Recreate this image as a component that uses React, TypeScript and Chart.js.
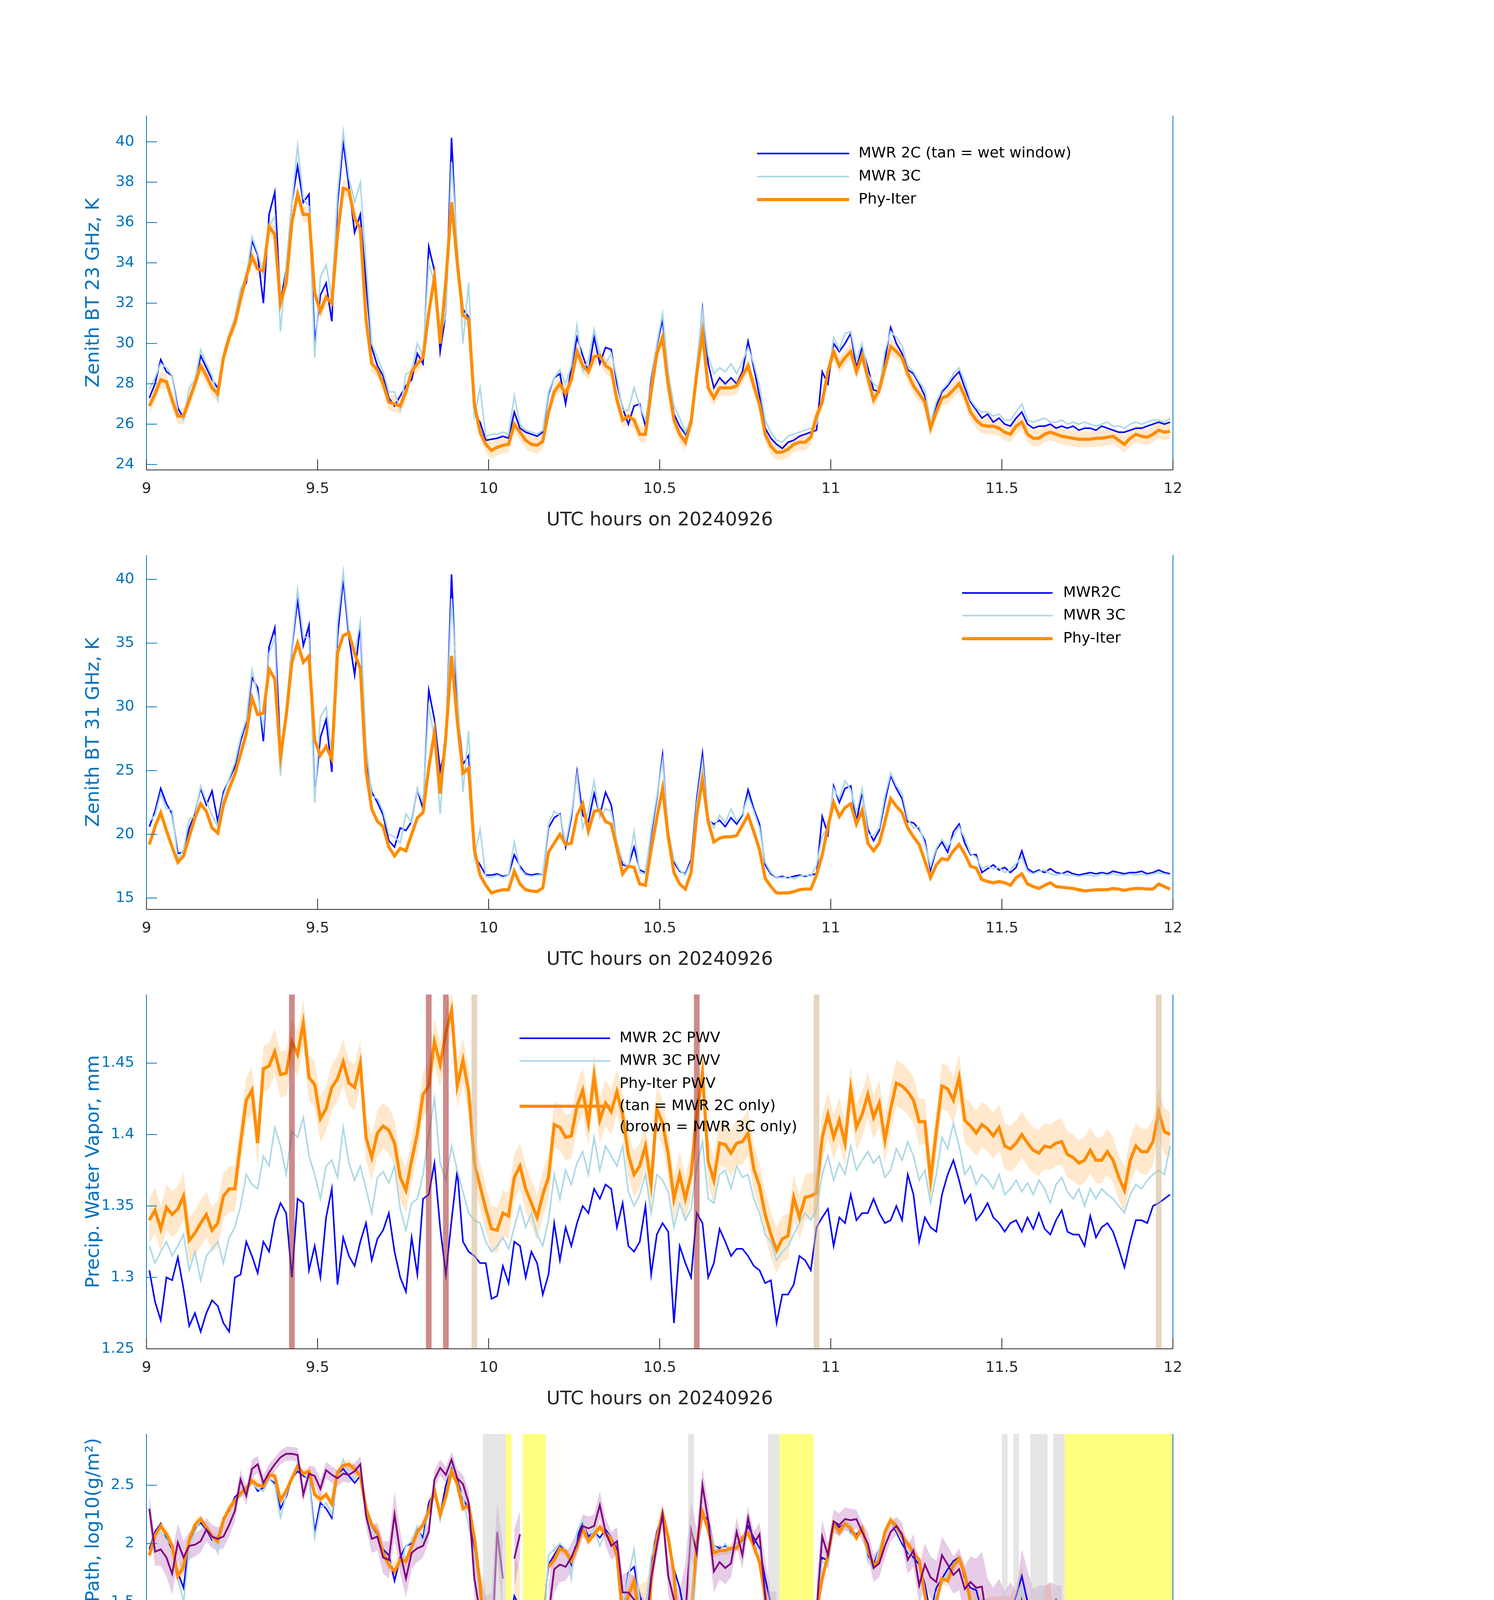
import { useEffect, useRef } from "react";
import { Chart, registerables } from "chart.js";

Chart.register(...registerables);
Chart.defaults.font.family = "'DejaVu Sans', sans-serif";

// page geometry (px)
const PAGE_W = 3825;
const PAGE_H = 6000;
const CANVAS_H = 1125;
const FIRST_CANVAS_TOP = 236;
const AXES_LEFT = 375;
const AXES_RIGHT = 3003;
const AXES_TOP = 60;
const X_AXIS_H = 158;

const AXIS_BLUE = "#0072BD";
const DARK = "#262626";
const BLUE = "#0000FF";
const LIGHT = "#ADD8E6";
const ORANGE = "#FF8C00";
const PURPLE = "#800080";

// one-minute retrievals, stamped mid-minute, 09:00-12:00 UTC
const minuteHours = Array.from({ length: 180 }, (_, i) => 9 + (i + 0.5) / 60);
const hourTicks = [9, 9.5, 10, 10.5, 11, 11.5, 12];

// ---- panel 1: zenith BT 23 GHz (K)
const bt23Mwr2c = [
  27.3, 28.0, 29.2, 28.6, 28.4, 26.8, 26.3, 27.2, 28.0, 29.4,
  28.8, 28.2, 27.8, 29.3, 30.3, 31.2, 32.6, 33.0, 35.1, 34.4,
  32.0, 36.4, 37.5, 32.0, 33.7, 37.0, 38.8, 37.0, 37.4, 30.0,
  32.4, 33.0, 31.1, 36.9, 40.0, 37.8, 35.5, 36.4, 33.0, 29.8,
  28.9, 28.4, 27.3, 26.9, 27.4, 27.9, 28.2, 29.5, 29.0, 34.8,
  33.6, 29.6, 31.5, 40.2, 34.3, 31.7, 31.3, 26.5, 26.1, 25.2,
  25.25, 25.3, 25.4, 25.3, 26.6, 25.8, 25.6, 25.5, 25.4, 25.6,
  27.5, 28.3, 28.5, 27.0, 28.8, 30.3, 29.4, 28.6, 30.3, 29.0,
  29.8, 29.7, 28.0, 26.8, 26.0, 26.9, 27.0, 25.9, 28.2, 29.9,
  31.2, 28.2, 26.5, 25.9, 25.5, 26.0, 28.8, 31.7, 29.0, 27.8,
  28.3, 28.0, 28.3, 28.0, 28.6, 30.1, 28.8, 27.4, 25.8, 25.3,
  25.0, 24.8, 25.1, 25.2, 25.4, 25.5, 25.6, 25.7, 28.6, 28.0,
  30.0, 29.6, 30.0, 30.5, 28.8, 29.8, 28.8, 27.7, 27.6, 29.2,
  30.8, 30.0, 29.5, 28.7, 28.5, 28.0, 27.4, 25.9, 26.9, 27.6,
  27.9, 28.3, 28.6, 27.8, 27.1, 26.7, 26.3, 26.5, 26.1, 26.3,
  26.0, 25.9, 26.3, 26.6, 26.0, 25.8, 25.9, 25.9, 26.0, 25.8,
  25.9, 25.8, 25.9, 25.7, 25.8, 25.8, 25.7, 25.9, 25.8, 25.7,
  25.6, 25.6, 25.7, 25.8, 25.8, 25.9, 26.0, 26.1, 26.0, 26.1,
];
const bt23Mwr3c = [
  27.7, 28.3, 29.0, 28.8, 28.4, 26.6, 26.2, 27.8, 28.2, 29.7,
  29.0, 28.4, 27.2, 29.4, 30.4, 31.3, 32.7, 33.3, 35.3, 34.5,
  33.4, 35.8, 36.3, 30.6, 33.8, 37.0, 39.8, 37.2, 36.8, 29.3,
  33.3, 33.9, 32.3, 37.4, 40.5, 38.2, 37.0, 38.0, 34.0, 30.0,
  29.3, 28.6, 27.6, 27.6, 26.7, 28.5, 28.6, 30.0, 29.4, 34.0,
  33.0, 30.4, 31.4, 39.0, 34.9, 30.0, 33.0, 26.4, 27.8, 25.4,
  25.5, 25.5, 25.6, 25.5, 27.4, 26.0, 25.7, 25.6, 25.5, 25.7,
  27.6, 28.3, 28.7, 28.0, 28.9, 30.9, 28.6, 29.2, 30.7, 29.5,
  29.0, 29.5, 28.3, 26.7, 26.7, 27.8, 26.9, 26.2, 28.0, 30.0,
  31.5, 28.6, 26.9, 26.3, 25.6, 26.3, 29.0, 31.6, 29.4, 28.5,
  28.8, 28.6, 29.0, 28.5, 29.1, 29.8, 29.0, 27.9, 26.2, 25.6,
  25.2, 25.1, 25.4, 25.5, 25.6, 25.7, 25.8, 26.0, 27.3, 28.4,
  30.3, 29.7, 30.5, 30.6, 29.2, 30.0, 28.5, 28.0, 27.8, 29.6,
  30.6, 30.3, 29.9, 28.9, 28.6, 28.1, 27.7, 26.1, 27.1, 27.7,
  28.0, 28.5, 28.8, 28.1, 27.2, 26.8, 26.6, 26.6, 26.4, 26.5,
  26.2, 26.2, 26.6, 27.0, 26.2, 26.1, 26.2, 26.3, 26.1, 26.1,
  26.2, 26.0, 26.1, 26.0, 26.1, 26.0, 25.9, 26.0, 26.1, 25.9,
  25.9, 25.8, 26.0, 26.1, 26.0, 26.1, 26.2, 26.2, 26.1, 26.3,
];
const bt23PhyIter = [
  26.9, 27.5, 28.2, 28.1, 27.2, 26.4, 26.4, 27.2, 28.0, 28.9,
  28.4, 27.8, 27.5, 29.3, 30.3, 31.0, 32.2, 33.3, 34.3, 33.7,
  33.6, 35.8, 35.4, 32.0, 33.0, 36.0, 37.4, 36.4, 36.4, 32.5,
  31.6, 32.3, 32.0, 35.4, 37.7, 37.6, 36.2, 35.7, 31.2, 29.0,
  28.7, 28.0, 27.1, 27.0, 26.9, 27.6, 28.6, 29.0, 29.3, 31.5,
  33.3, 30.0, 33.1, 37.0, 34.0, 31.4, 31.2, 27.0, 25.6, 25.0,
  24.7, 24.85, 24.95, 25.0, 26.0, 25.6, 25.2, 25.0, 24.95, 25.15,
  26.6, 27.6, 28.0, 27.5, 28.2, 29.6, 28.9, 28.6, 29.35, 29.4,
  28.9, 28.7, 27.2, 26.2, 26.4, 26.2, 25.5, 25.5, 27.6, 29.5,
  30.3, 27.9, 26.2, 25.5, 25.1, 26.1, 28.5, 30.5, 27.8, 27.3,
  27.8, 27.8, 27.8, 27.9, 28.4, 28.9, 27.9, 27.0, 25.5, 24.9,
  24.6, 24.62, 24.75, 25.0, 25.1, 25.1, 25.35, 26.4, 27.1, 28.6,
  29.6, 28.9, 29.3, 29.6, 28.6, 29.4, 28.3, 27.2, 27.7, 28.8,
  29.85, 29.6, 29.3, 28.5, 27.9, 27.5, 27.1, 25.8, 26.6, 27.3,
  27.4, 27.7, 28.0, 27.4, 26.6, 26.2, 25.95, 25.9, 25.9, 25.8,
  25.6, 25.5, 25.9, 26.1, 25.5, 25.3, 25.3, 25.5, 25.6, 25.5,
  25.4, 25.35, 25.3, 25.25, 25.25, 25.25, 25.3, 25.3, 25.35, 25.4,
  25.2, 25.0, 25.3, 25.5, 25.4, 25.35, 25.5, 25.7, 25.6, 25.65,
];
const bt23PhyIterUnc = 0.4;
const bt23Ticks = [24, 26, 28, 30, 32, 34, 36, 38, 40];

// ---- panel 2: zenith BT 31 GHz (K)
const bt31Mwr2c = [
  20.6, 21.8, 23.6, 22.4, 21.6, 18.5, 18.6, 20.5, 21.6, 23.6,
  22.3, 23.4, 21.0, 23.3, 24.3, 25.3, 27.3, 28.8, 32.3, 31.5,
  27.3, 34.7, 36.2, 26.6, 29.4, 34.6, 38.4, 34.8, 36.4, 23.0,
  27.6, 29.0, 24.9, 35.5, 40.0, 35.5, 32.5, 36.4, 26.0, 23.3,
  22.5, 21.5, 19.5, 19.0, 20.5, 20.3, 21.0, 23.5, 22.0, 31.3,
  29.0, 25.0, 27.0, 40.4, 29.8, 25.5, 26.2, 18.3, 17.6, 16.8,
  16.8, 16.9, 16.7, 16.8, 18.4, 17.5, 16.9, 16.8, 16.9, 16.8,
  20.5, 21.3, 21.6, 19.0, 21.3, 24.9, 21.5, 21.0, 23.2, 21.5,
  23.3, 22.3, 19.2, 17.6, 17.5, 19.0, 17.2, 17.0, 20.0, 22.8,
  26.2, 20.0, 17.8, 17.1, 16.9, 18.0, 22.8, 26.3, 21.1, 20.8,
  21.1, 20.6, 21.3, 20.8, 21.5, 23.5, 22.0, 20.8, 17.6, 16.9,
  16.6, 16.7, 16.6, 16.7, 16.8, 16.7, 16.8, 16.9, 21.4, 20.0,
  23.8, 22.5, 23.6, 23.8, 21.0, 23.3, 20.4, 19.5, 20.3, 22.6,
  24.6, 23.6, 22.8, 21.0, 20.9, 20.4, 19.5, 17.2, 18.8, 19.4,
  18.6, 20.2, 20.8, 19.3, 18.4, 18.4, 17.0, 17.3, 17.6, 17.2,
  17.4, 17.0, 17.4, 18.7, 17.3, 17.0, 17.2, 17.0, 17.3, 17.0,
  16.9, 17.1, 16.9, 16.8, 16.9, 17.0, 16.9, 17.0, 16.9, 17.1,
  17.0, 16.9, 17.0, 17.0, 17.1, 16.9, 17.0, 17.2, 17.0, 16.9,
];
const bt31Mwr3c = [
  21.0, 21.5, 23.2, 22.0, 21.9, 18.0, 18.8, 21.2, 21.4, 23.8,
  22.6, 21.5, 20.6, 23.0, 24.4, 25.6, 27.6, 29.0, 32.9, 31.0,
  28.3, 34.2, 35.4, 24.6, 29.9, 34.8, 39.2, 35.5, 35.4, 22.5,
  29.2, 30.0, 26.3, 36.5, 40.6, 36.0, 34.2, 36.7, 27.0, 23.0,
  22.8, 21.8, 20.0, 19.8, 19.3, 21.6, 20.9, 23.5, 22.5, 30.0,
  27.5, 21.6, 27.5, 38.5, 31.4, 23.3, 28.1, 18.2, 20.4, 16.7,
  16.6, 16.8, 16.6, 16.8, 19.4, 17.3, 16.8, 16.7, 16.8, 16.8,
  20.8, 21.8, 21.5, 19.3, 21.6, 24.6, 20.5, 21.8, 24.2, 21.3,
  22.0, 21.8, 19.4, 17.9, 17.4, 20.2, 17.0, 16.9, 20.3, 23.0,
  25.8, 20.3, 18.0, 17.2, 16.8, 17.8, 22.4, 25.7, 21.3, 20.5,
  21.5, 20.9, 22.0, 21.0, 21.6, 23.0, 21.8, 20.5, 17.8, 17.0,
  16.6, 16.6, 16.7, 16.5, 16.7, 16.8, 16.7, 17.6, 19.8, 20.6,
  23.6, 22.8, 24.2, 23.5, 21.7, 23.6, 20.0, 19.9, 20.5, 23.0,
  24.8, 23.8, 23.2, 21.2, 20.5, 20.6, 19.2, 17.5, 18.9, 19.6,
  19.0, 19.8, 20.6, 19.7, 18.5, 18.2, 17.3, 17.5, 17.3, 17.4,
  17.0, 17.2, 17.7, 18.2, 17.1, 16.9, 17.1, 17.2, 16.9, 16.8,
  16.9, 16.8, 16.8, 16.7, 16.8, 16.8, 16.7, 16.9, 16.8, 16.9,
  16.8, 16.8, 16.9, 16.8, 16.9, 16.8, 16.9, 17.0, 16.9, 16.8,
];
const bt31PhyIter = [
  19.2, 20.6, 21.7, 20.3, 19.0, 17.8, 18.3, 19.8, 21.3, 22.4,
  21.8, 20.5, 20.1, 22.3, 23.6, 24.7, 26.3, 27.9, 30.7, 29.4,
  29.5, 32.95, 32.2, 26.1, 29.3, 33.5, 35.0, 33.5, 34.0, 27.4,
  26.2, 26.9, 25.9, 34.2, 35.6, 35.8, 34.2, 33.0, 25.0, 22.0,
  21.0, 20.6, 19.0, 18.3, 18.9, 18.7, 20.0, 21.3, 21.7, 25.2,
  28.0, 23.2, 27.7, 34.0, 28.9, 24.8, 25.2, 18.8, 16.8, 16.0,
  15.4, 15.55, 15.65, 15.65, 17.1, 16.1, 15.65, 15.55, 15.5, 15.8,
  18.6, 19.3, 20.0, 19.2, 19.3, 21.5, 22.4, 20.25, 21.8, 21.9,
  21.0, 20.8, 18.9, 16.9, 17.5, 17.4, 16.1, 16.0, 18.8, 21.3,
  23.6, 19.8, 17.0, 16.1, 15.7, 17.0, 21.5, 24.3, 21.0, 19.4,
  19.7, 19.8, 19.8, 19.9, 20.7, 21.5, 20.2, 18.8, 16.55, 15.9,
  15.4, 15.4, 15.4, 15.5, 15.65, 15.7, 15.7, 16.8, 18.4, 20.6,
  22.5, 21.4, 22.1, 22.4, 20.8, 21.9, 19.3, 18.7, 19.3, 21.0,
  22.8, 22.2, 21.7, 20.5, 19.8, 19.2, 17.9, 16.6, 17.6, 18.1,
  18.0, 18.7, 19.2, 18.45, 17.5, 17.35, 16.45, 16.3, 16.2, 16.3,
  16.2, 16.0, 16.6, 16.9, 16.1, 15.9, 15.75, 16.0, 16.2, 15.9,
  15.85, 15.8, 15.75, 15.65, 15.55, 15.6, 15.65, 15.65, 15.65, 15.75,
  15.7, 15.6, 15.7, 15.75, 15.75, 15.7, 15.7, 16.1, 15.9, 15.7,
];
const bt31PhyIterUnc = 0.12;
const bt31Ticks = [15, 20, 25, 30, 35, 40];

// ---- panel 3: precipitable water vapour (mm)
const pwvMwr2c = [
  1.305, 1.283, 1.270, 1.300, 1.298, 1.314, 1.292, 1.266, 1.275, 1.262,
  1.275, 1.284, 1.280, 1.268, 1.262, 1.300, 1.302, 1.325, 1.315, 1.303,
  1.325, 1.318, 1.340, 1.352, 1.345, 1.300, 1.355, 1.352, 1.305, 1.322,
  1.300, 1.342, 1.362, 1.295, 1.328, 1.315, 1.308, 1.325, 1.338, 1.312,
  1.327, 1.333, 1.345, 1.318, 1.300, 1.290, 1.328, 1.302, 1.355, 1.358,
  1.380, 1.335, 1.302, 1.340, 1.375, 1.325, 1.318, 1.315, 1.310, 1.310,
  1.285, 1.287, 1.308, 1.296, 1.325, 1.322, 1.300, 1.318, 1.310, 1.288,
  1.302, 1.338, 1.312, 1.335, 1.322, 1.338, 1.350, 1.345, 1.362, 1.355,
  1.365, 1.362, 1.335, 1.352, 1.322, 1.318, 1.325, 1.350, 1.302, 1.330,
  1.338, 1.332, 1.268, 1.322, 1.310, 1.300, 1.345, 1.338, 1.300, 1.310,
  1.334, 1.325, 1.315, 1.320, 1.320, 1.315, 1.308, 1.305, 1.296, 1.298,
  1.268, 1.288, 1.288, 1.295, 1.315, 1.312, 1.305, 1.335, 1.342, 1.348,
  1.322, 1.342, 1.338, 1.358, 1.340, 1.345, 1.345, 1.355, 1.345, 1.338,
  1.340, 1.350, 1.340, 1.372, 1.358, 1.325, 1.342, 1.335, 1.332, 1.358,
  1.372, 1.382, 1.368, 1.352, 1.358, 1.340, 1.345, 1.352, 1.342, 1.338,
  1.332, 1.338, 1.340, 1.332, 1.342, 1.334, 1.345, 1.334, 1.330, 1.340,
  1.347, 1.332, 1.330, 1.330, 1.322, 1.343, 1.328, 1.335, 1.338, 1.332,
  1.320, 1.307, 1.325, 1.340, 1.340, 1.338, 1.350, 1.352, 1.355, 1.358,
];
const pwvMwr3c = [
  1.322, 1.310, 1.318, 1.325, 1.315, 1.322, 1.330, 1.305, 1.318, 1.298,
  1.315, 1.320, 1.325, 1.310, 1.328, 1.335, 1.350, 1.372, 1.365, 1.362,
  1.385, 1.378, 1.405, 1.392, 1.372, 1.402, 1.398, 1.412, 1.385, 1.372,
  1.355, 1.378, 1.382, 1.370, 1.405, 1.380, 1.368, 1.378, 1.362, 1.345,
  1.370, 1.374, 1.366, 1.378, 1.348, 1.333, 1.352, 1.355, 1.372, 1.400,
  1.425, 1.380, 1.368, 1.392, 1.375, 1.360, 1.345, 1.340, 1.338, 1.325,
  1.318, 1.322, 1.328, 1.320, 1.335, 1.350, 1.335, 1.345, 1.330, 1.322,
  1.340, 1.372, 1.355, 1.375, 1.365, 1.380, 1.388, 1.372, 1.398, 1.375,
  1.392, 1.385, 1.378, 1.392, 1.360, 1.350, 1.358, 1.372, 1.345, 1.372,
  1.368, 1.360, 1.335, 1.352, 1.340, 1.348, 1.378, 1.395, 1.355, 1.352,
  1.372, 1.375, 1.362, 1.378, 1.370, 1.372, 1.355, 1.345, 1.330, 1.325,
  1.312, 1.318, 1.322, 1.330, 1.338, 1.345, 1.340, 1.348, 1.372, 1.385,
  1.368, 1.380, 1.372, 1.392, 1.375, 1.382, 1.388, 1.380, 1.385, 1.370,
  1.375, 1.390, 1.382, 1.395, 1.385, 1.368, 1.375, 1.352, 1.372, 1.398,
  1.390, 1.408, 1.392, 1.372, 1.378, 1.365, 1.372, 1.368, 1.362, 1.372,
  1.358, 1.362, 1.368, 1.360, 1.366, 1.358, 1.368, 1.362, 1.352, 1.365,
  1.370, 1.360, 1.355, 1.362, 1.350, 1.362, 1.355, 1.362, 1.358, 1.355,
  1.350, 1.345, 1.358, 1.365, 1.362, 1.368, 1.372, 1.375, 1.372, 1.392,
];
const pwvPhyIter = [
  1.340, 1.347, 1.334, 1.349, 1.344, 1.348, 1.357, 1.326, 1.331, 1.338,
  1.344, 1.333, 1.338, 1.357, 1.362, 1.362, 1.394, 1.424, 1.431, 1.394,
  1.446, 1.448, 1.458, 1.442, 1.443, 1.465, 1.456, 1.478, 1.440, 1.435,
  1.411, 1.418, 1.433, 1.439, 1.451, 1.436, 1.433, 1.450, 1.398, 1.384,
  1.401, 1.406, 1.403, 1.394, 1.370, 1.361, 1.382, 1.401, 1.428, 1.434,
  1.465, 1.449, 1.471, 1.487, 1.434, 1.452, 1.430, 1.380, 1.364, 1.348,
  1.334, 1.333, 1.345, 1.343, 1.370, 1.378, 1.362, 1.352, 1.342, 1.358,
  1.370, 1.407, 1.405, 1.398, 1.399, 1.420, 1.431, 1.408, 1.441, 1.410,
  1.422, 1.416, 1.430, 1.414, 1.386, 1.372, 1.378, 1.392, 1.365, 1.418,
  1.408, 1.386, 1.355, 1.372, 1.355, 1.372, 1.414, 1.443, 1.381, 1.368,
  1.394, 1.393, 1.387, 1.394, 1.395, 1.401, 1.376, 1.364, 1.344, 1.330,
  1.319, 1.327, 1.329, 1.356, 1.342, 1.356, 1.357, 1.359, 1.398, 1.414,
  1.398, 1.410, 1.394, 1.432, 1.405, 1.414, 1.428, 1.412, 1.422, 1.396,
  1.418, 1.436, 1.434, 1.430, 1.424, 1.409, 1.409, 1.368, 1.402, 1.434,
  1.432, 1.424, 1.440, 1.410, 1.406, 1.401, 1.407, 1.404, 1.399, 1.405,
  1.392, 1.390, 1.394, 1.400, 1.394, 1.389, 1.387, 1.392, 1.391, 1.394,
  1.395, 1.386, 1.384, 1.380, 1.382, 1.389, 1.382, 1.382, 1.388, 1.382,
  1.370, 1.361, 1.382, 1.392, 1.388, 1.388, 1.395, 1.416, 1.402, 1.400,
];
const pwvPhyIterUnc = 0.016;
const pwvTicks = [1.25, 1.3, 1.35, 1.4, 1.45];
// single-minute windows where only one radiometer was used
const pwvTanHours = [9.9583, 10.9583, 11.9583];
const pwvBrownHours = [9.425, 9.825, 9.875, 10.6083];

// ---- panel 4: log10 liquid water path
const lwpMwr2c = [
  1.95, 2.10, 2.17, 2.05, 1.95, 1.75, 1.62, 2.02, 2.12, 2.18,
  2.12, 2.03, 2.05, 2.22, 2.28, 2.40, 2.44, 2.48, 2.54, 2.45,
  2.48, 2.55, 2.52, 2.30, 2.40, 2.56, 2.62, 2.58, 2.56, 2.10,
  2.35, 2.30, 2.22, 2.60, 2.64, 2.58, 2.52, 2.58, 2.30, 2.15,
  2.08, 1.95, 1.90, 1.68, 1.88, 1.98, 2.00, 2.12, 2.05, 2.35,
  2.45, 2.25, 2.50, 2.65, 2.55, 2.38, 2.30, 1.95, 1.60, 1.38,
  1.35, 1.36, 1.34, 1.25, 1.55, 1.45, 1.30, 1.32, 1.26, 1.31,
  1.82, 1.90, 1.98, 1.95, 1.82, 2.05, 2.18, 2.06, 2.10, 2.05,
  2.12, 2.05, 1.95, 1.42, 1.75, 1.80, 1.55, 1.42, 1.85, 2.10,
  2.25, 2.05, 1.78, 1.62, 1.35, 1.38, 1.95, 2.25, 2.20, 1.98,
  1.96, 1.98, 1.95, 2.00, 2.02, 2.15, 2.05, 1.96, 1.70, 1.48,
  1.30, 1.36, 1.30, 1.34, 1.28, 1.34, 1.36, 1.45, 1.88, 1.85,
  2.18, 2.14, 2.17, 2.10, 2.08, 2.12, 1.90, 1.82, 1.95, 2.10,
  2.18, 2.10, 2.00, 1.92, 1.88, 1.82, 1.65, 1.40, 1.62, 1.70,
  1.78, 1.85, 1.88, 1.70, 1.62, 1.60, 1.42, 1.30, 1.48, 1.30,
  1.48, 1.40, 1.55, 1.72, 1.50, 1.35, 1.38, 1.42, 1.45, 1.52,
  1.40, 1.33, 1.36, 1.31, 1.28, 1.34, 1.36, 1.32, 1.36, 1.35,
  1.32, 1.35, 1.30, 1.34, 1.38, 1.37, 1.30, 1.38, 1.25, 1.24,
];
const lwpMwr3c = [
  1.90, 2.05, 2.10, 2.03, 1.98, 1.70, 1.50, 1.95, 2.10, 2.20,
  2.15, 2.05, 1.92, 2.20, 2.30, 2.38, 2.40, 2.45, 2.52, 2.47,
  2.45, 2.55, 2.50, 2.22, 2.42, 2.55, 2.70, 2.60, 2.55, 2.05,
  2.30, 2.35, 2.25, 2.58, 2.72, 2.60, 2.55, 2.62, 2.28, 2.10,
  2.04, 1.90, 1.85, 1.78, 1.82, 1.98, 2.02, 2.15, 2.00, 2.30,
  2.50, 2.20, 2.40, 2.70, 2.50, 2.40, 2.15, 1.90, 1.55, 1.42,
  1.05, 1.08, 1.10, 1.00, 1.10, 1.08, 1.06, 1.10, 1.04, 1.08,
  1.90, 1.95, 2.00, 1.95, 1.70, 2.10, 2.20, 2.02, 2.12, 1.98,
  2.10, 2.05, 1.90, 1.45, 1.72, 1.95, 1.50, 1.40, 1.88, 2.05,
  2.22, 2.05, 1.75, 1.30, 1.05, 1.08, 1.90, 2.22, 2.18, 1.98,
  1.94, 2.00, 1.92, 2.00, 2.00, 2.10, 2.02, 1.94, 1.60, 1.20,
  1.05, 0.98, 1.02, 0.96, 1.00, 1.04, 1.10, 1.35, 1.85, 1.80,
  2.15, 2.12, 2.18, 2.08, 2.05, 2.15, 1.85, 1.78, 1.95, 2.12,
  2.17, 2.12, 2.02, 1.94, 1.85, 1.80, 1.55, 1.25, 1.58, 1.65,
  1.75, 1.82, 1.85, 1.72, 1.55, 1.40, 1.25, 1.15, 1.30, 1.22,
  1.35, 1.30, 1.45, 1.62, 1.30, 1.15, 1.05, 1.00, 1.12, 1.15,
  1.05, 1.00, 0.95, 0.98, 0.92, 0.96, 1.00, 0.96, 0.94, 1.00,
  0.97, 0.93, 0.98, 1.00, 0.95, 0.92, 0.96, 0.90, 0.98, 1.02,
];
const N = null;
const lwpPhyIter = [
  1.90, 2.07, 2.15, 2.08, 1.98, 1.72, 1.80, 2.03, 2.16, 2.21,
  2.14, 2.06, 2.02, 2.20, 2.30, 2.37, 2.43, 2.47, 2.54, 2.50,
  2.49, 2.59, 2.58, 2.37, 2.45, 2.56, 2.66, 2.60, 2.62, 2.42,
  2.38, 2.42, 2.34, 2.61, 2.67, 2.68, 2.64, 2.58, 2.30, 2.16,
  2.10, 1.92, 1.82, 1.76, 1.86, 1.85, 1.97, 2.10, 2.16, 2.28,
  2.45, 2.25, 2.40, 2.62, 2.51, 2.30, 2.33, 2.05, 1.65, 1.05,
  -0.3, 0.23, -0.3, N, 1.50, 0.98, N, N, N, N,
  1.80, 1.86, 1.96, 1.93, 1.85, 1.97, 2.13, 2.02, 2.08, 2.14,
  2.08, 2.04, 1.90, 1.38, 1.55, 1.68, 1.35, 0.82, 1.70, 2.05,
  2.26, 2.05, 1.74, 1.07, 0.29, 1.40, 2.00, 2.27, 2.12, 1.92,
  1.94, 1.94, 1.96, 1.96, 2.05, 2.09, 1.98, 1.84, 1.55, 1.05,
  0.25, N, N, N, N, N, N, 1.42, 1.70, 1.90,
  2.17, 2.10, 2.17, 2.13, 2.05, 2.13, 1.95, 1.81, 1.86, 2.10,
  2.20, 2.15, 2.06, 2.00, 1.92, 1.86, 1.56, 1.30, 1.50, 1.70,
  1.68, 1.81, 1.87, 1.74, 1.50, 1.50, 1.03, 0.83, 0.95, 0.99,
  0.85, 0.74, 1.05, 1.40, 0.75, 0.54, 0.22, 0.73, 0.96, 0.45,
  0.36, N, N, N, N, N, N, N, N, N,
  N, N, N, N, N, N, N, N, N, N,
];
const lwpPhyIterUnc = [
  0.06, 0.05, 0.05, 0.05, 0.06, 0.08, 0.08, 0.05, 0.04, 0.04,
  0.04, 0.04, 0.05, 0.04, 0.04, 0.04, 0.04, 0.04, 0.04, 0.04,
  0.04, 0.04, 0.04, 0.04, 0.04, 0.04, 0.04, 0.04, 0.04, 0.04,
  0.04, 0.04, 0.04, 0.04, 0.04, 0.04, 0.04, 0.04, 0.04, 0.04,
  0.04, 0.05, 0.06, 0.08, 0.06, 0.05, 0.04, 0.04, 0.04, 0.04,
  0.04, 0.05, 0.04, 0.04, 0.04, 0.04, 0.04, 0.05, 0.10, 0.60,
  1.00, 1.00, 1.00, 0, 0.40, 0.80, 0, 0, 0, 0,
  0.06, 0.05, 0.04, 0.04, 0.05, 0.04, 0.04, 0.04, 0.04, 0.04,
  0.04, 0.04, 0.06, 0.15, 0.10, 0.08, 0.30, 0.85, 0.08, 0.04,
  0.04, 0.05, 0.08, 0.30, 0.55, 0.20, 0.05, 0.04, 0.04, 0.04,
  0.04, 0.04, 0.04, 0.04, 0.04, 0.04, 0.04, 0.05, 0.15, 0.50,
  0.60, 0, 0, 0, 0, 0, 0, 0.10, 0.06, 0.05,
  0.04, 0.04, 0.04, 0.04, 0.04, 0.04, 0.04, 0.04, 0.04, 0.04,
  0.04, 0.04, 0.04, 0.04, 0.04, 0.04, 0.08, 0.17, 0.08, 0.05,
  0.05, 0.05, 0.05, 0.06, 0.10, 0.15, 0.50, 0.70, 0.60, 0.55,
  0.70, 0.80, 0.60, 0.40, 0.80, 0.90, 0.50, 0.90, 0.70, 0.80,
  0.80, 0, 0, 0, 0, 0, 0, 0, 0, 0,
  0, 0, 0, 0, 0, 0, 0, 0, 0, 0,
];
const lwpAdiabatic = [
  2.30, 1.93, 1.95, 1.88, 1.74, 2.01, 1.88, 1.98, 1.99, 2.02,
  2.12, 2.06, 2.04, 2.06, 2.16, 2.28, 2.55, 2.41, 2.64, 2.68,
  2.52, 2.61, 2.68, 2.74, 2.77, 2.77, 2.76, 2.42, 2.60, 2.58,
  2.47, 2.63, 2.59, 2.56, 2.60, 2.59, 2.62, 2.68, 2.24, 2.04,
  2.06, 1.88, 1.86, 2.25, 1.92, 1.70, 1.92, 1.96, 1.98, 2.10,
  2.55, 2.65, 2.59, 2.72, 2.56, 2.51, 2.35, 1.70, 1.40, 1.05,
  1.03, 2.10, 1.70, N, 1.87, 2.08, N, N, N, N,
  1.38, 1.78, 1.82, 1.80, 1.88, 2.00, 2.15, 2.13, 2.15, 2.33,
  2.10, 1.98, 2.02, 1.58, 1.58, 1.52, 1.40, 1.24, 1.70, 1.98,
  2.25, 1.72, 1.52, 1.09, 1.38, 2.12, 1.92, 2.50, 2.20, 1.76,
  1.84, 1.79, 1.83, 2.10, 1.90, 2.22, 2.00, 2.08, 1.55, 1.04,
  1.04, N, N, N, N, N, N, 1.42, 2.06, 1.90,
  2.19, 2.16, 2.21, 2.20, 2.21, 2.10, 2.00, 1.79, 1.83, 1.98,
  2.10, 2.15, 2.08, 1.86, 1.94, 1.64, 1.82, 1.71, 1.67, 1.90,
  1.82, 1.73, 1.78, 1.61, 1.67, 1.62, 1.63, 1.30, 1.17, 1.25,
  1.04, 1.17, 1.04, 1.50, 1.27, 1.06, 1.04, 1.04, 1.12, 1.04,
  1.04, N, N, N, N, N, N, N, N, N,
  N, N, N, N, N, N, N, N, N, N,
];
const lwpAdiabaticUnc = [
  0.12, 0.12, 0.14, 0.16, 0.18, 0.16, 0.14, 0.12, 0.10, 0.10,
  0.10, 0.10, 0.10, 0.10, 0.10, 0.09, 0.08, 0.08, 0.08, 0.07,
  0.07, 0.07, 0.06, 0.06, 0.06, 0.06, 0.06, 0.07, 0.07, 0.08,
  0.08, 0.07, 0.07, 0.07, 0.07, 0.07, 0.07, 0.07, 0.10, 0.12,
  0.12, 0.14, 0.16, 0.20, 0.18, 0.16, 0.14, 0.12, 0.10, 0.08,
  0.08, 0.07, 0.07, 0.07, 0.08, 0.08, 0.10, 0.15, 0.30, 0.50,
  0.55, 0.25, 0.30, 0, 0.25, 0.20, 0, 0, 0, 0,
  0.25, 0.20, 0.15, 0.12, 0.12, 0.10, 0.10, 0.10, 0.10, 0.12,
  0.12, 0.12, 0.12, 0.15, 0.18, 0.20, 0.20, 0.25, 0.15, 0.10,
  0.10, 0.15, 0.20, 0.50, 0.45, 0.25, 0.20, 0.15, 0.15, 0.18,
  0.15, 0.14, 0.12, 0.12, 0.12, 0.10, 0.10, 0.10, 0.30, 0.55,
  0.55, 0, 0, 0, 0, 0, 0, 0.25, 0.15, 0.10,
  0.10, 0.10, 0.10, 0.10, 0.08, 0.08, 0.10, 0.12, 0.12, 0.10,
  0.08, 0.08, 0.10, 0.12, 0.14, 0.16, 0.18, 0.18, 0.18, 0.16,
  0.16, 0.16, 0.18, 0.20, 0.22, 0.25, 0.30, 0.40, 0.45, 0.45,
  0.55, 0.50, 0.55, 0.45, 0.50, 0.55, 0.60, 0.60, 0.55, 0.60,
  0.60, 0, 0, 0, 0, 0, 0, 0, 0, 0,
  0, 0, 0, 0, 0, 0, 0, 0, 0, 0,
];
const lwpTicks = [0, 0.5, 1, 1.5, 2, 2.5];

// ---- panel 5: Phy-Iter data-quality flag, one digit per minute (half-hour per chunk)
const dqFlagChunks = [
  "000000000000000000000000000000",
  "000000000000000000000000000004",
  "433500555500000000060000000000",
  "000003000000000000044555555000",
  "006000000000000000000000000000",
  "404004440445555555555555555555",
];
const dqFlags = dqFlagChunks.join("").split("").map(Number);
const dqTicks = [0, 2, 4, 6, 8, 10];

// ---------------------------------------------------------------------------

type Val = number | null;
const toPoints = (vals: Val[]) => vals.map((y, i) => ({ x: minuteHours[i], y }));
const offsetBy = (vals: Val[], unc: number | number[], sign: number) =>
  vals.map((v, i) => (v == null ? null : v + sign * (Array.isArray(unc) ? unc[i] : unc)));

const lineSet = (vals: Val[], color: string, width: number, order: number) => ({
  data: toPoints(vals),
  borderColor: color,
  borderWidth: width,
  pointRadius: 0,
  fill: false,
  tension: 0,
  order,
});

const bandSets = (vals: Val[], unc: number | number[], color: string, order: number) => [
  {
    data: toPoints(offsetBy(vals, unc, 1)),
    borderColor: "transparent",
    borderWidth: 0,
    pointRadius: 0,
    backgroundColor: color,
    fill: "+1",
    order,
  },
  {
    data: toPoints(offsetBy(vals, unc, -1)),
    borderColor: "transparent",
    borderWidth: 0,
    pointRadius: 0,
    fill: false,
    order,
  },
];

const ORANGE_BAND = "rgba(255,140,0,0.2)";
const PURPLE_BAND = "rgba(128,0,128,0.2)";

type LegendRow = { label: string; color?: string; width?: number };
type Legend = { x0: number; x1: number; textX: number; rows: number[]; items: LegendRow[] };
type PanelSpec = {
  yTitle: string;
  yMin: number;
  yMax: number;
  yTicks: number[];
  datasets: any[];
  legend?: Legend;
  overlay?: (chart: any) => void;
};

const spanRect = (chart: any, h0: number, h1: number, color: string) => {
  const { ctx, chartArea: a, scales } = chart;
  const x0 = Math.max(a.left, scales.x.getPixelForValue(h0));
  const x1 = Math.min(a.right, scales.x.getPixelForValue(h1));
  ctx.fillStyle = color;
  ctx.fillRect(x0, a.top, x1 - x0, a.bottom - a.top);
};

const pwvOverlay = (chart: any) => {
  pwvTanHours.forEach((h) => spanRect(chart, h - 1 / 120, h + 1 / 120, "rgba(210,180,140,0.55)"));
  pwvBrownHours.forEach((h) => spanRect(chart, h - 1 / 120, h + 1 / 120, "rgba(165,42,42,0.55)"));
};

// flagged minutes: 3/4 grey, 5 yellow (drawn over the lines)
const lwpOverlay = (chart: any) => {
  const shade = (f: number) => (f === 3 || f === 4 ? "rgba(204,204,204,0.5)" : f === 5 ? "rgba(255,255,0,0.5)" : null);
  let i = 0;
  while (i < dqFlags.length) {
    const c = shade(dqFlags[i]);
    let j = i + 1;
    while (j < dqFlags.length && shade(dqFlags[j]) === c) j++;
    if (c) spanRect(chart, 9 + i / 60, 9 + j / 60, c);
    i = j;
  }
};

const panels: PanelSpec[] = [
  {
    yTitle: "Zenith BT 23 GHz, K",
    yMin: 23.73,
    yMax: 41.3,
    yTicks: bt23Ticks,
    datasets: [
      ...bandSets(bt23PhyIter, bt23PhyIterUnc, ORANGE_BAND, 10),
      lineSet(bt23Mwr2c, BLUE, 4, 3),
      lineSet(bt23Mwr3c, LIGHT, 4, 2),
      lineSet(bt23PhyIter, ORANGE, 8, 1),
    ],
    legend: {
      x0: 1938, x1: 2174, textX: 2198, rows: [157, 216, 275],
      items: [
        { label: "MWR 2C (tan = wet window)", color: BLUE, width: 4 },
        { label: "MWR 3C", color: LIGHT, width: 4 },
        { label: "Phy-Iter", color: ORANGE, width: 8 },
      ],
    },
  },
  {
    yTitle: "Zenith BT 31 GHz, K",
    yMin: 14.11,
    yMax: 41.91,
    yTicks: bt31Ticks,
    datasets: [
      ...bandSets(bt31PhyIter, bt31PhyIterUnc, ORANGE_BAND, 10),
      lineSet(bt31Mwr2c, BLUE, 4, 3),
      lineSet(bt31Mwr3c, LIGHT, 4, 2),
      lineSet(bt31PhyIter, ORANGE, 8, 1),
    ],
    legend: {
      x0: 2463, x1: 2695, textX: 2722, rows: [157, 215, 274],
      items: [
        { label: "MWR2C", color: BLUE, width: 4 },
        { label: "MWR 3C", color: LIGHT, width: 4 },
        { label: "Phy-Iter", color: ORANGE, width: 8 },
      ],
    },
  },
  {
    yTitle: "Precip. Water Vapor, mm",
    yMin: 1.25,
    yMax: 1.498,
    yTicks: pwvTicks,
    datasets: [
      ...bandSets(pwvPhyIter, pwvPhyIterUnc, ORANGE_BAND, 10),
      lineSet(pwvMwr2c, BLUE, 4, 3),
      lineSet(pwvMwr3c, LIGHT, 4, 2),
      lineSet(pwvPhyIter, ORANGE, 8, 1),
    ],
    legend: {
      x0: 1330, x1: 1562, textX: 1586, rows: [172, 230, 289, 346, 400],
      items: [
        { label: "MWR 2C PWV", color: BLUE, width: 4 },
        { label: "MWR 3C PWV", color: LIGHT, width: 4 },
        { label: "Phy-Iter PWV" },
        { label: "(tan = MWR 2C only)", color: ORANGE, width: 8 },
        { label: "(brown = MWR 3C only)" },
      ],
    },
    overlay: pwvOverlay,
  },
  {
    yTitle: "log10 Liquid Water Path, log10(g/m²)",
    yMin: -0.1,
    yMax: 2.94,
    yTicks: lwpTicks,
    datasets: [
      ...bandSets(lwpPhyIter, lwpPhyIterUnc, ORANGE_BAND, 20),
      ...bandSets(lwpAdiabatic, lwpAdiabaticUnc, PURPLE_BAND, 19),
      lineSet(lwpMwr2c, BLUE, 4, 4),
      lineSet(lwpMwr3c, LIGHT, 4, 3),
      lineSet(lwpPhyIter, ORANGE, 8, 2),
      lineSet(lwpAdiabatic, PURPLE, 4.5, 1),
    ],
    legend: {
      x0: 546, x1: 782, textX: 806, rows: [727, 784, 842, 900],
      items: [
        { label: "MWR 2C LWP", color: BLUE, width: 4 },
        { label: "MWR 3C LWP", color: LIGHT, width: 4 },
        { label: "Phy-Iter LWP", color: ORANGE, width: 8 },
        { label: "Adiabatic LWP", color: PURPLE, width: 4.5 },
      ],
    },
    overlay: lwpOverlay,
  },
  {
    yTitle: "MWR Phy Iter DQ Flag",
    yMin: -0.5,
    yMax: 11.5,
    yTicks: dqTicks,
    datasets: [
      {
        data: toPoints(dqFlags),
        showLine: false,
        pointRadius: 3.6,
        pointBorderWidth: 0,
        pointBackgroundColor: ORANGE,
        borderColor: ORANGE,
      },
    ],
  },
];

const decorPlugin = (spec: PanelSpec) => ({
  id: "panelDecor",
  afterDatasetsDraw(chart: any) {
    if (!spec.overlay) return;
    chart.ctx.save();
    spec.overlay(chart);
    chart.ctx.restore();
  },
  afterDraw(chart: any) {
    const { ctx, chartArea: a, scales } = chart;
    const seg = (x0: number, y0: number, x1: number, y1: number) => {
      ctx.beginPath();
      ctx.moveTo(x0, y0);
      ctx.lineTo(x1, y1);
      ctx.stroke();
    };
    ctx.save();
    ctx.lineWidth = 2;
    // left and right axis lines
    ctx.strokeStyle = AXIS_BLUE;
    seg(a.left, a.top, a.left, a.bottom);
    seg(a.right, a.top, a.right, a.bottom);
    spec.yTicks.forEach((v) => {
      const py = scales.y.getPixelForValue(v);
      seg(a.left, py, a.left + 27, py);
    });
    // bottom axis with inward ticks
    ctx.strokeStyle = DARK;
    seg(a.left, a.bottom, a.right, a.bottom);
    hourTicks.forEach((h) => {
      const px = scales.x.getPixelForValue(h);
      seg(px, a.bottom, px, a.bottom - 27);
    });
    // legend
    const lg = spec.legend;
    if (lg) {
      ctx.font = "38px 'DejaVu Sans'";
      ctx.textBaseline = "middle";
      ctx.textAlign = "left";
      lg.items.forEach((it, k) => {
        const y = lg.rows[k];
        if (it.color) {
          ctx.strokeStyle = it.color;
          ctx.lineWidth = it.width || 4;
          seg(lg.x0, y, lg.x1, y);
        }
        ctx.fillStyle = "#000000";
        ctx.fillText(it.label, lg.textX, y);
      });
    }
    ctx.restore();
  },
});

const buildConfig = (spec: PanelSpec): any => ({
  type: "line",
  data: { datasets: spec.datasets },
  options: {
    animation: false,
    responsive: false,
    devicePixelRatio: 1,
    events: [],
    layout: { padding: { left: 0, right: PAGE_W - AXES_RIGHT, top: AXES_TOP, bottom: 0 } },
    plugins: { legend: { display: false }, tooltip: { enabled: false } },
    scales: {
      x: {
        type: "linear",
        min: 9,
        max: 12,
        afterBuildTicks: (s: any) => {
          s.ticks = hourTicks.map((value) => ({ value }));
        },
        afterFit: (s: any) => {
          s.height = X_AXIS_H;
        },
        grid: { display: false, drawTicks: false },
        border: { display: false },
        ticks: {
          autoSkip: false,
          maxRotation: 0,
          padding: 26,
          color: DARK,
          font: { size: 38 },
          callback: (v: number) => String(v),
        },
        title: {
          display: true,
          text: "UTC hours on 20240926",
          color: DARK,
          font: { size: 48 },
          padding: { top: 0, bottom: 0 },
        },
      },
      y: {
        type: "linear",
        min: spec.yMin,
        max: spec.yMax,
        afterBuildTicks: (s: any) => {
          s.ticks = spec.yTicks.map((value) => ({ value }));
        },
        afterFit: (s: any) => {
          s.width = AXES_LEFT;
        },
        grid: { display: false, drawTicks: false },
        border: { display: false },
        ticks: {
          autoSkip: false,
          padding: 31,
          color: AXIS_BLUE,
          font: { size: 38 },
          callback: (v: number) => String(v),
        },
        title: {
          display: true,
          text: spec.yTitle,
          color: AXIS_BLUE,
          font: { size: 48 },
          padding: { top: 212, bottom: 0 },
        },
      },
    },
  },
  plugins: [decorPlugin(spec)],
});

function PanelChart({ spec, top }: { spec: PanelSpec; top: number }) {
  const canvasRef = useRef<HTMLCanvasElement | null>(null);

  useEffect(() => {
    if (!canvasRef.current) return;
    const chart = new Chart(canvasRef.current, buildConfig(spec));
    return () => {
      chart.destroy();
    };
  }, [spec]);

  return (
    <canvas
      ref={canvasRef}
      width={PAGE_W}
      height={CANVAS_H}
      style={{ position: "absolute", left: 0, top, width: PAGE_W, height: CANVAS_H }}
    />
  );
}

export default function App() {
  return (
    <div style={{ position: "absolute", left: 0, top: 0, width: PAGE_W, height: PAGE_H, background: "#ffffff" }}>
      {panels.map((spec, k) => (
        <PanelChart key={k} spec={spec} top={FIRST_CANVAS_TOP + k * CANVAS_H} />
      ))}
    </div>
  );
}
